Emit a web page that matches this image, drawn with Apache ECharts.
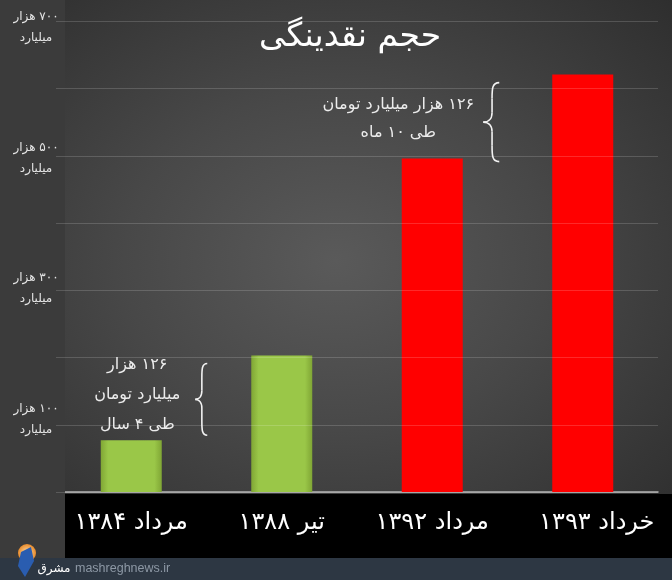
<!DOCTYPE html>
<html>
<head>
<meta charset="utf-8">
<script src="https://cdn.jsdelivr.net/npm/echarts@6/dist/echarts.min.js"></script>
<style>
html,body{margin:0;padding:0;background:#2c2c2c;}
#chart{width:672px;height:580px;background:radial-gradient(ellipse 70% 65% at 50% 45%, #5a5a5a 0%, #484848 45%, #2e2e2e 100%);}
</style>
</head>
<body>
<div id="chart"></div>
<script>
// ---- data ----
const categories = ['مرداد ۱۳۸۴', 'تیر ۱۳۸۸', 'مرداد ۱۳۹۲', 'خرداد ۱۳۹۳'];
const values = [77, 203, 496, 621];
const yTickValues = [100, 300, 500, 700];
const yTickLine1 = 'هزار';
const yTickLine2 = 'میلیارد';
const titleText = 'حجم نقدینگی';
const note1Lines = ['۱۲۶ هزار', 'میلیارد تومان', 'طی ۴ سال'];
const note2Lines = ['۱۲۶ هزار میلیارد تومان', 'طی ۱۰ ماه'];
const sourceText = 'mashreghnews.ir';
const sourceLogoText = 'مشرق';

// ---- styles ----
const RLM = '\u200F';
const FA = '"DejaVu Sans", "Noto Sans", sans-serif';
const greenFill = new echarts.graphic.LinearGradient(0, 0, 1, 0, [
  {offset: 0, color: '#80a635'}, {offset: 0.12, color: '#9ac748'},
  {offset: 0.88, color: '#9ac748'}, {offset: 1, color: '#80a635'}]);
const redFill = '#ff0000';
const barFills = [greenFill, greenFill, redFill, redFill];
// vertical nudge (px) of each y tick label block, as placed in the original picture
const yLabelNudge = {100: -5, 300: -2, 500: 2, 700: 6};

function fa(n) {
  return String(n).replace(/[0-9]/g, d => '۰۱۲۳۴۵۶۷۸۹'[+d]);
}
function rtl(lines) { return lines.map(l => RLM + l).join('\n'); }

const yRich = {l: {color: '#e4e4e4', fontSize: 12, fontFamily: FA, lineHeight: 21, align: 'center'}};
Object.keys(yLabelNudge).forEach(k => {
  yRich['s' + k] = {fontSize: 1, lineHeight: Math.abs(yLabelNudge[k]) * 2};
});

const chart = echarts.init(document.getElementById('chart'), null, {renderer: 'canvas'});

const option = {
  backgroundColor: 'transparent',
  animation: false,
  grid: {left: 56, right: 14, top: 14, bottom: 88},
  xAxis: {
    type: 'category',
    data: categories.map((c, i) => i === categories.length - 1
      ? {value: c, textStyle: {padding: [0, 0, 0, 28]}} : c),
    z: 0,
    axisLine: {lineStyle: {color: '#b4b4b4', width: 1.5}},
    axisTick: {show: false},
    axisLabel: {
      interval: 0, hideOverlap: false,
      color: '#ffffff', fontSize: 24, fontFamily: FA, lineHeight: 30, margin: 16,
      formatter: v => RLM + v
    }
  },
  yAxis: {
    type: 'value', min: 0, max: 700, interval: 100, z: 5,
    axisLine: {show: false}, axisTick: {show: false},
    splitLine: {lineStyle: {color: 'rgba(255,255,255,0.16)', width: 1}},
    axisLabel: {
      align: 'center', margin: 20, rich: yRich,
      formatter: v => {
        if (yTickValues.indexOf(v) < 0) return '';
        const body = '{l|' + RLM + fa(v) + ' ' + yTickLine1 + '}\n{l|' + RLM + yTickLine2 + '}';
        const d = yLabelNudge[v] || 0;
        if (d > 0) return '{s' + v + '| }\n' + body;
        if (d < 0) return body + '\n{s' + v + '| }';
        return body;
      }
    }
  },
  series: [{
    type: 'bar',
    barWidth: 61,
    z: 2,
    data: values.map((v, i) => ({value: v, itemStyle: {color: barFills[i]}}))
  }],
  graphic: []
};
chart.setOption(option);

function px(ci, v) { return chart.convertToPixel({seriesIndex: 0}, [ci, v]); }

function brace(x, yTop, h, w) {
  const m = yTop + h / 2, xm = x + w * 0.55;
  const ls = {stroke: '#f2f2f2', lineWidth: 1.6, fill: null};
  return [
    {type: 'bezierCurve', z: 10, shape: {x1: x + w, y1: yTop, cpx1: xm, cpy1: yTop, cpx2: xm, cpy2: yTop + h * 0.08, x2: xm, y2: yTop + h * 0.2}, style: ls},
    {type: 'line', z: 10, shape: {x1: xm, y1: yTop + h * 0.2, x2: xm, y2: m - h * 0.12}, style: ls},
    {type: 'bezierCurve', z: 10, shape: {x1: xm, y1: m - h * 0.12, cpx1: xm, cpy1: m - h * 0.02, cpx2: x + w * 0.2, cpy2: m, x2: x, y2: m}, style: ls},
    {type: 'bezierCurve', z: 10, shape: {x1: x, y1: m, cpx1: x + w * 0.2, cpy1: m, cpx2: xm, cpy2: m + h * 0.02, x2: xm, y2: m + h * 0.12}, style: ls},
    {type: 'line', z: 10, shape: {x1: xm, y1: m + h * 0.12, x2: xm, y2: yTop + h * 0.8}, style: ls},
    {type: 'bezierCurve', z: 10, shape: {x1: xm, y1: yTop + h * 0.8, cpx1: xm, cpy1: yTop + h * 0.92, cpx2: xm, cpy2: yTop + h, x2: x + w, y2: yTop + h}, style: ls}
  ];
}

const a1 = px(0, (values[0] + values[1]) / 2);
const a2 = px(2, (values[2] + values[3]) / 2);
const b1top = px(0, values[1])[1] + 8, b1bot = px(0, values[0])[1] - 5;
const b2top = px(2, values[3])[1] + 8, b2bot = px(2, values[2])[1] + 3;

const graphics = [
  {type: 'rect', z: -1, shape: {x: 65, y: 494, width: 607, height: 64}, style: {fill: '#000000'}},
  {type: 'rect', z: 1, shape: {x: 0, y: 0, width: 65, height: 558}, style: {fill: '#3b3b3b'}},
  {type: 'rect', z: 1, shape: {x: 0, y: 558, width: 672, height: 22}, style: {fill: '#2d3743'}},
  {type: 'circle', z: 2, shape: {cx: 27, cy: 553, r: 9}, style: {fill: new echarts.graphic.RadialGradient(0.5, 0.5, 0.5, [{offset: 0, color: '#ffe2b0'}, {offset: 1, color: '#e88a2a'}])}},
  {type: 'polygon', z: 3, shape: {points: [[21, 552], [31, 547], [34, 561], [25, 577], [18, 566]]}, style: {fill: '#2a5db0'}},
  {type: 'text', z: 3, style: {text: RLM + sourceLogoText, x: 54, y: 569, align: 'center', verticalAlign: 'middle', fill: '#ffffff', font: '12px ' + FA}},
  {type: 'text', z: 3, style: {text: sourceText, x: 75, y: 569, align: 'left', verticalAlign: 'middle', fill: '#8d98a5', font: '12.5px "Liberation Sans Narrow", "Liberation Sans", sans-serif'}},
  {type: 'text', z: 10, style: {text: RLM + titleText, x: 350, y: 37, align: 'center', verticalAlign: 'middle', fill: '#ffffff', font: '33px ' + FA}},
  {type: 'text', z: 10, style: {text: rtl(note1Lines), x: a1[0] + 6, y: a1[1] - 3, align: 'center', verticalAlign: 'middle', fill: '#ececec', font: '16px ' + FA, lineHeight: 30}},
  {type: 'text', z: 10, style: {text: rtl(note2Lines), x: a2[0] - 34, y: a2[1] + 2, align: 'center', verticalAlign: 'middle', fill: '#ececec', font: '16px ' + FA, lineHeight: 28}}
].concat(brace(a1[0] + 64, b1top, b1bot - b1top, 12))
 .concat(brace(a2[0] + 51, b2top, b2bot - b2top, 16));

chart.setOption({graphic: graphics});
</script>
</body>
</html>
